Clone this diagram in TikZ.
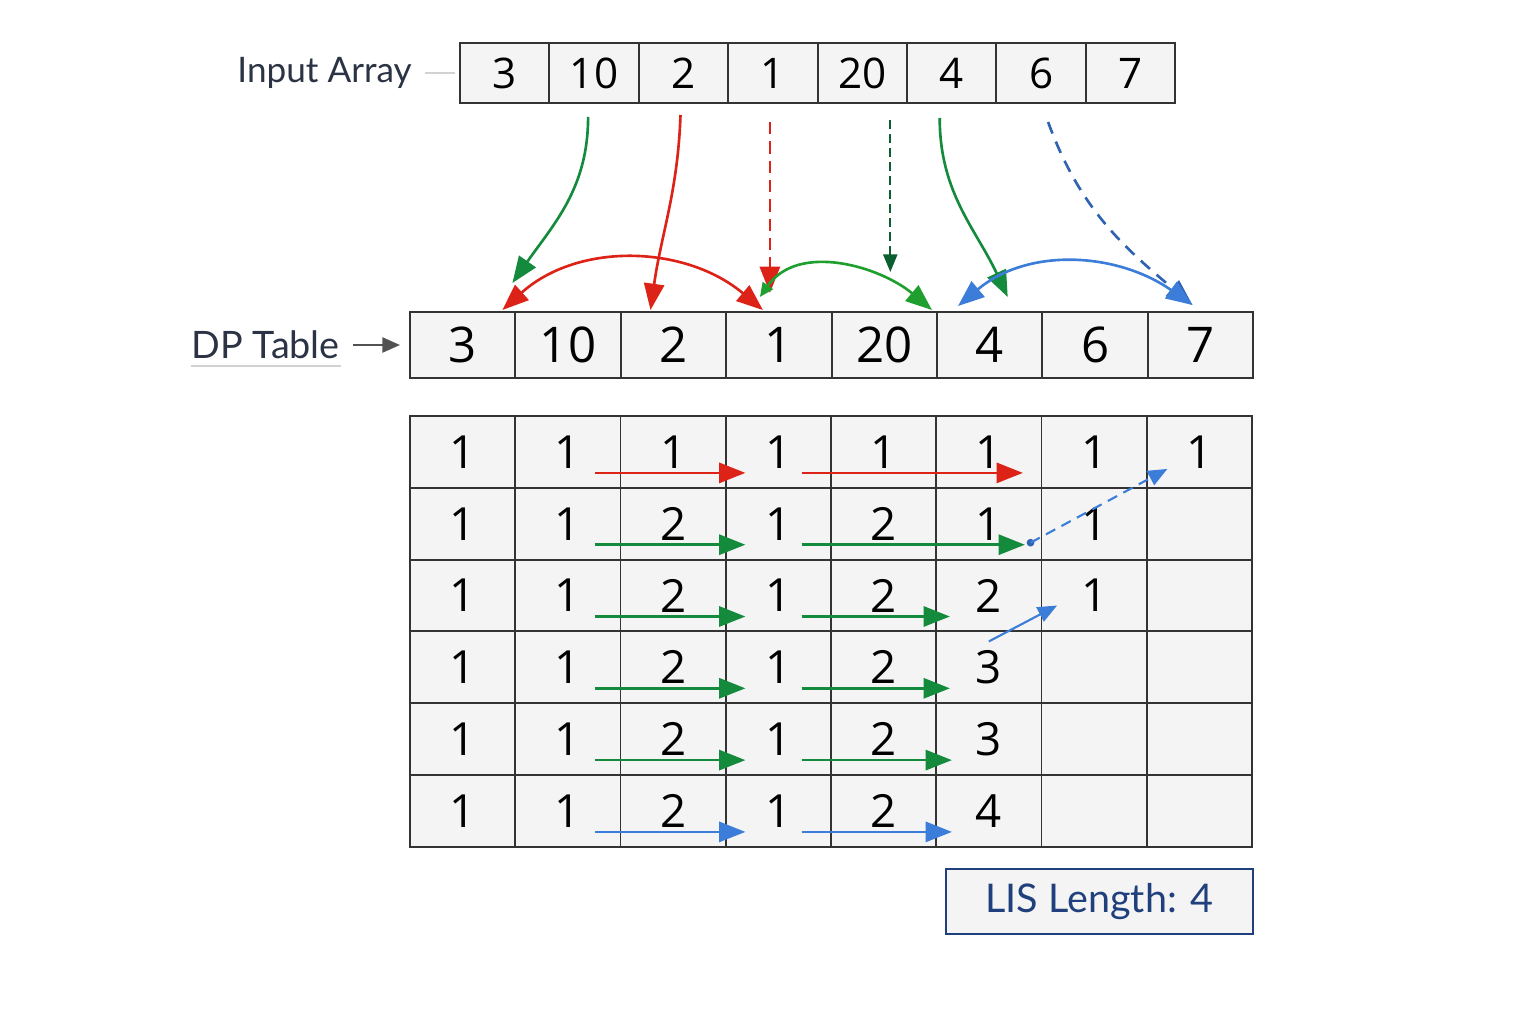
\documentclass[tikz,border=0pt]{standalone}
\usepackage{fontspec}
\setmainfont{Open Sans}
\newfontfamily\labelfont{Lato}
\usetikzlibrary{arrows.meta,calc,positioning}

\definecolor{lisred}{RGB}{221,34,23}
\definecolor{lisgreen}{RGB}{19,138,60}
\definecolor{arcgreen}{RGB}{31,160,46}
\definecolor{dashgreen}{RGB}{11,94,48}
\definecolor{lisblue}{RGB}{59,125,216}
\definecolor{dashblue}{RGB}{47,98,176}
\definecolor{navy}{RGB}{31,63,125}
\definecolor{labeltext}{RGB}{43,51,68}
\definecolor{cellline}{RGB}{51,51,51}
\definecolor{cellfill}{RGB}{244,244,244}

\begin{document}
\begin{tikzpicture}[x=0.02cm, y=-0.02cm, >={Triangle[length=15pt,width=11.5pt]}, line width=1.5pt]

    \tikzstyle{incell}   = [rectangle, draw=cellline, fill=cellfill, line width=1.1pt, inner sep=0pt, outer sep=0pt, minimum width=1.788cm, minimum height=1.2cm, font=\fontsize{24}{28}\selectfont]
    \tikzstyle{dpcell}   = [incell, minimum width=2.108cm, minimum height=1.32cm, font=\fontsize{28}{32}\selectfont]
    \tikzstyle{gridcell} = [incell, minimum width=2.105cm, minimum height=1.436cm, font=\fontsize{26}{30}\selectfont]
    \tikzstyle{lbl}      = [inner sep=0pt, text=labeltext]
    \tikzstyle{lisbox}   = [rectangle, draw=navy, fill=cellfill, line width=1.2pt, text=navy, minimum width=6.14cm, minimum height=1.3cm, font=\labelfont\fontsize{22.5}{27}\selectfont]

    \useasboundingbox (0,0) rectangle (1536,1024);

    % input array and dp table
    \foreach \v [count=\i] in {3,10,2,1,20,4,6,7} {
        \node (in\i) [incell] at ({460+89.4*(\i-0.5)},73)  {\v};
        \node (dp\i) [dpcell] at ({410+105.4*(\i-0.5)},345) {\v};
    }

    \node (inlabel) [lbl, font=\labelfont\fontsize{20}{24}\selectfont, left=0.94cm of in1]  {Input Array};
    \node (dplabel) [lbl, font=\labelfont\fontsize{21.5}{26}\selectfont, left=1.38cm of dp1]  {DP Table};

    \draw[gray!35, line width=1pt, shorten <=0.24cm, shorten >=0.1cm] (inlabel) -- (in1);
    \draw[gray!35, line width=1.2pt] ([yshift=-3.4pt]dplabel.south west) -- ([yshift=-3.4pt]dplabel.south east);
    \draw[-{Triangle[length=10pt,width=8.5pt]}, line width=1.3pt, cellline!85, shorten <=0.24cm, shorten >=0.2cm] (dplabel) -- (dp1);

    % grid of lengths
    \foreach \row [count=\r] in {{1,1,1,1,1,1,1,1},{1,1,2,1,2,1,1,{}},{1,1,2,1,2,2,1,{}},{1,1,2,1,2,3,{},{}},{1,1,2,1,2,3,{},{}},{1,1,2,1,2,4,{},{}}} {
        \foreach \v [count=\c] in \row {
            \node (g-\r-\c) [gridcell] at ({410+105.25*(\c-0.5)},{416+71.8*(\r-0.5)}) {\v};
        }
    }

    \node (lis) [lisbox] at (1099.5,901.5) {LIS Length: 4};

    % from input array down to dp table
    \path[->, lisgreen]  ([shift={(-6,14)}]in2.south)  edge[out=-90, in=55]  ([shift={(-3,-29)}]dp1.north east);
    \path[->, lisred]    ([shift={(-3,12)}]in3.south)  edge[out=-92, in=82]  ([shift={(-23,-2)}]dp3.north);
    \path[->, lisred, dash pattern=on 7pt off 4pt]    ([shift={(-3,19)}]in4.south) edge ([shift={(-9,-19)}]dp4.north);
    \path[->, dashgreen, line width=1.1pt, dash pattern=on 5pt off 3pt, >={Triangle[length=10pt,width=8pt]}]
                         ([shift={(28,17)}]in5.south)  edge                  ([shift={(6,-40)}]dp5.north);
    \path[->, lisgreen]  ([shift={(-12,15)}]in6.south) edge[out=-90, in=115] ([shift={(18,-15)}]dp6.north);
    \path[->, dashblue, dash pattern=on 7pt off 5pt]  ([shift={(7,19)}]in7.south) edge[out=-70, in=140] ([shift={(-8,-7)}]dp8.north);

    % arcs over the dp table
    \path[<->, lisred]   ([shift={(-13,-2)}]dp1.north east) edge[out=42, in=140] ([shift={(-16,-2)}]dp4.north);
    \path[{Triangle[length=8pt,width=7pt]}->, arcgreen] ([shift={(-19,-15)}]dp4.north) edge[out=55, in=140] ([shift={(-5,-2)}]dp5.north east);
    \path[<->, lisblue]  ([shift={(21,-6)}]dp6.north west) edge[out=40, in=145] ([shift={(-8,-7)}]dp8.north);

    % arrows along the rows
    \foreach \r/\clr/\dx in {1/lisred/34, 2/lisgreen/36, 3/lisgreen/-39, 4/lisgreen/-39, 5/lisgreen/-37, 6/lisblue/-37} {
        \path[->, \clr] ([shift={(27,21)}]g-\r-2.center)  edge ([shift={(-33,21)}]g-\r-4.center);
        \path[->, \clr] ([shift={(-82,21)}]g-\r-5.center) edge ([shift={(\dx,21)}]g-\r-6.center);
    }

    \coordinate (dotstart) at ([shift={(-11,19)}]g-2-7.west);
    \fill[dashblue] (dotstart) circle (2.2pt);
    \path[->, lisblue, line width=1.2pt, dash pattern=on 6pt off 4pt, >={Triangle[length=11pt,width=9pt]}] (dotstart) edge ([shift={(-32,17)}]g-1-8.center);
    \path[->, lisblue, line width=1.2pt, >={Triangle[length=11pt,width=9pt]}] ([shift={(0,10)}]g-4-6.north) edge ([shift={(-37,10)}]g-3-7.center);

\end{tikzpicture}
\end{document}
